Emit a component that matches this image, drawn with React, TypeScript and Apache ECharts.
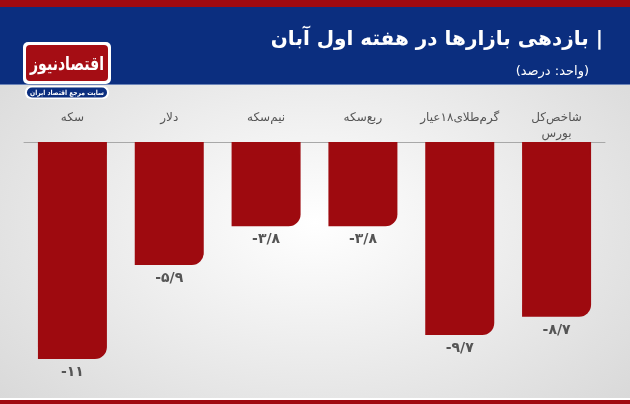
import React, { useEffect, useRef } from "react";
import * as echarts from "echarts";

const categories = ["شاخص‌کل\nبورس", "گرم‌طلای۱۸عیار", "ربع‌سکه", "نیم‌سکه", "دلار", "سکه"];
const values = [-8.7, -9.7, -3.8, -3.8, -5.9, -11];
const valueLabels = ["-۸/۷", "-۹/۷", "-۳/۸", "-۳/۸", "-۵/۹", "-۱۱"];
// the source chart's bars start a little above value zero (axis line sits above the zero level)
const baseOffset = [-0.76, -0.76, -0.76, -0.76, -0.76, -0.76];

const FONT = "DejaVu Sans, Noto Sans, sans-serif";
const RED = "#9e0a0f";

export default function App() {
  const ref = useRef<HTMLDivElement>(null);
  useEffect(() => {
    if (!ref.current) return;
    const chart = echarts.init(ref.current, undefined, { renderer: "svg" });
    chart.setOption({
      animation: false,
      backgroundColor: new echarts.graphic.RadialGradient(0.5, 0.55, 0.75, [
        { offset: 0, color: "#ffffff" },
        { offset: 1, color: "#d4d4d4" },
      ]),
      grid: { left: 24, right: 25, top: 142, height: 240 },
      xAxis: {
        type: "category",
        position: "top",
        inverse: true,
        data: categories,
        axisLine: { show: true, lineStyle: { color: "#a8a8a8", width: 1 } },
        axisTick: { show: false },
        axisLabel: {
          color: "#555555",
          fontSize: 12,
          fontFamily: FONT,
          verticalAlign: "top",
          margin: 33,
          lineHeight: 16,
          interval: 0,
        },
      },
      yAxis: {
        type: "value",
        min: -13,
        max: 0,
        show: false,
        splitLine: { show: false },
      },
      series: [
        {
          type: "bar",
          stack: "s",
          data: baseOffset,
          barWidth: 69,
          z: 3,
          itemStyle: { color: RED, borderColor: RED, borderWidth: 1.5 },
          label: { show: false },
        },
        {
          type: "bar",
          stack: "s",
          data: values,
          barWidth: 69,
          z: 2,
          itemStyle: { color: RED, borderRadius: [0, 0, 12, 0] },
          label: {
            show: true,
            position: "bottom",
            distance: 5,
            color: "#555555",
            fontSize: 14,
            fontWeight: "bold",
            fontFamily: FONT,
            formatter: (p: any) => valueLabels[p.dataIndex],
          },
        },
      ],
      graphic: [
        { type: "rect", shape: { x: 0, y: 0, width: 630, height: 7 }, style: { fill: "#a00a10" }, z: 10 },
        { type: "rect", shape: { x: 0, y: 7, width: 630, height: 77 }, style: { fill: "#0b2e7f" }, z: 10 },
        { type: "rect", shape: { x: 0, y: 84, width: 630, height: 1 }, style: { fill: "#6c84b8" }, z: 10 },
        { type: "rect", shape: { x: 0, y: 398, width: 630, height: 2 }, style: { fill: "#ffffff" }, z: 10 },
        { type: "rect", shape: { x: 0, y: 400, width: 630, height: 4 }, style: { fill: "#a00a10" }, z: 10 },
        {
          type: "text",
          x: 603,
          y: 38,
          z: 11,
          style: {
            text: "بازدهی بازارها در هفته اول آبان |",
            fill: "#ffffff",
            font: "bold 20px " + FONT,
            align: "right",
            verticalAlign: "middle",
          },
        },
        {
          type: "text",
          x: 589,
          y: 70,
          z: 11,
          style: {
            text: "(واحد: درصد)",
            fill: "#ffffff",
            font: "13px " + FONT,
            align: "right",
            verticalAlign: "middle",
          },
        },
        {
          type: "rect",
          z: 11,
          shape: { x: 23, y: 42, width: 88, height: 42, r: 5 },
          style: { fill: "#ffffff" },
        },
        {
          type: "rect",
          z: 12,
          shape: { x: 26, y: 45, width: 82, height: 36, r: 4 },
          style: { fill: "#a50d14" },
        },
        {
          type: "text",
          x: 67,
          y: 63,
          z: 13,
          scaleX: 0.74,
          style: {
            text: "اقتصادنیوز",
            fill: "#ffffff",
            font: "bold 19px " + FONT,
            align: "center",
            verticalAlign: "middle",
          },
        },
        {
          type: "rect",
          z: 11,
          shape: { x: 25, y: 86, width: 84, height: 13, r: 6 },
          style: { fill: "#ffffff" },
        },
        {
          type: "rect",
          z: 12,
          shape: { x: 27, y: 87.5, width: 80, height: 10, r: 5 },
          style: { fill: "#0b2e7f" },
        },
        {
          type: "text",
          x: 67,
          y: 92.5,
          z: 13,
          scaleX: 0.86,
          style: {
            text: "سایت مرجع اقتصاد ایران",
            fill: "#ffffff",
            font: "bold 7px " + FONT,
            align: "center",
            verticalAlign: "middle",
          },
        },
      ],
    });
    return () => chart.dispose();
  }, []);
  return (
    <div
      ref={ref}
      style={{ position: "fixed", left: 0, top: 0, width: 630, height: 404 }}
    />
  );
}
